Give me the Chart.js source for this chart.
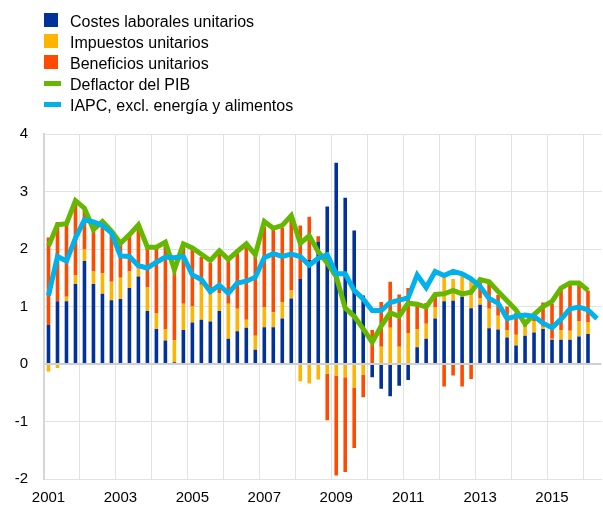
<!DOCTYPE html>
<html>
<head>
<meta charset="utf-8">
<script src="https://cdn.jsdelivr.net/npm/chart.js@4"></script>
<style>
  html, body { margin: 0; padding: 0; background: #fff; overflow: hidden; }
  #wrap { position: relative; width: 603px; height: 506px; overflow: hidden; }
  canvas { position: absolute; left: 0; top: 0; }
  #legend { position: absolute; left: 44px; top: 11px; font: 16px "Liberation Sans", Arial, sans-serif; color: #000; }
  .row { position: relative; height: 21px; line-height: 21px; padding-left: 26px; white-space: nowrap; }
  .mark { position: absolute; left: 0; }
</style>
</head>
<body>
<div id="wrap">
  <canvas id="myChart" width="607" height="506"></canvas>
  <div id="legend"></div>
</div>
<script>
// quarters 2001Q1 .. 2016Q2
const quarters = []
for (let y = 2001; y <= 2016; y++) {
    for (let q = 1; q <= 4; q++) {
        if (y === 2016 && q > 2) break
        quarters.push(y + 'Q' + q)
    }
}

const unitLabourCosts = [0.68,1.09,1.09,1.39,1.79,1.39,1.22,1.11,1.13,1.32,
    1.52,0.92,0.61,0.41,0.03,0.59,0.72,0.77,0.74,0.92,
    0.44,0.57,0.63,0.25,0.64,0.64,0.79,1.14,1.48,1.81,
    2.13,2.74,3.50,2.89,2.32,1.19,-0.23,-0.43,-0.56,-0.38,
    -0.28,0.29,0.44,0.79,1.09,1.10,1.17,0.97,1.03,0.62,
    0.60,0.46,0.32,0.49,0.55,0.61,0.42,0.42,0.42,0.48,
    0.52,null]

const unitTaxes = [-0.13,-0.07,0.08,0.16,0.20,0.22,0.36,0.32,0.37,0.29,
    0.14,0.41,0.27,0.19,0.38,0.46,0.28,0.61,0.47,0.31,
    0.61,0.39,0.14,0.24,0.35,0.26,0.29,0.14,-0.30,-0.34,
    -0.27,-0.17,-0.20,-0.23,-0.41,-0.19,0,0.30,0.63,0.30,
    0.54,0.32,0.26,0.20,0.49,0.38,0.36,0.54,0.12,0.34,
    0.24,0.13,0.19,0.16,0.20,0.04,0.02,0.17,0.16,0.26,
    0.20,null]

const unitProfits = [1.52,1.38,1.25,1.29,0.72,0.73,0.90,0.88,0.60,0.64,
    0.75,0.70,1.14,1.50,1.23,1.04,0.99,0.48,0.55,0.70,
    0.76,0.97,1.28,1.41,1.40,1.47,1.29,1.29,0.93,0.75,
    0.09,-0.81,-1.74,-1.65,-1.05,-0.39,0.59,0.78,0.80,0.91,
    0.78,0.45,0.36,0.24,-0.39,-0.20,-0.39,-0.26,0.32,0.45,
    0.36,0.41,0.38,0.12,0.13,0.42,0.61,0.72,0.82,0.66,
    0.56,null]

const gdpDeflator = [2.05,2.42,2.44,2.84,2.71,2.34,2.48,2.31,2.10,2.25,
    2.42,2.03,2.03,2.12,1.64,2.09,2.02,1.91,1.80,1.97,
    1.82,1.96,2.09,1.90,2.48,2.36,2.41,2.58,2.10,2.23,
    1.95,1.76,1.52,0.97,0.83,0.61,0.38,0.66,0.89,0.83,
    1.06,1.04,0.99,1.21,1.22,1.28,1.22,1.25,1.47,1.43,
    1.26,1.10,0.94,0.70,0.86,1.00,1.09,1.32,1.41,1.41,
    1.28,null]

const hicpCore = [1.19,1.87,1.79,2.19,2.51,2.47,2.41,2.28,1.88,1.87,
    1.71,1.67,1.77,1.86,1.85,1.87,1.55,1.47,1.26,1.37,
    1.23,1.41,1.44,1.51,1.85,1.92,1.87,1.91,1.87,1.72,
    1.84,1.90,1.57,1.57,1.28,1.13,0.93,0.93,1.07,1.11,
    1.15,1.55,1.33,1.61,1.54,1.61,1.57,1.48,1.35,1.14,
    1.06,0.79,0.83,0.85,0.83,0.71,0.63,0.78,0.96,0.99,
    0.94,0.79]

const yTicks = [-2, -1, 0, 1, 2, 3, 4]

const BLUE = '#003299'
const YELLOW = '#ffb400'
const ORANGE = '#ff4b00'
const GREEN = '#65b800'
const CYAN = '#00b1ea'

Chart.defaults.font.family = '"Liberation Sans", Arial, sans-serif'
Chart.defaults.font.size = 15
Chart.defaults.color = '#000'

const barSet = (label, data, color) => ({
    type: 'bar',
    label: label,
    data: data,
    backgroundColor: color,
    borderWidth: 0,
    stack: 'bars',
    order: 3,
    barPercentage: 0.4,
    categoryPercentage: 1
})

const lineSet = (label, data, color, order) => ({
    type: 'line',
    label: label,
    data: data,
    borderColor: color,
    backgroundColor: color,
    borderWidth: 5,
    pointRadius: 0,
    fill: false,
    tension: 0,
    stack: label,
    order: order
})

const ctx = document.getElementById('myChart').getContext('2d')
const chart = new Chart(ctx, {
    type: 'bar',
    data: {
        labels: quarters,
        datasets: [
            barSet('Costes laborales unitarios', unitLabourCosts, BLUE),
            barSet('Impuestos unitarios', unitTaxes, YELLOW),
            barSet('Beneficios unitarios', unitProfits, ORANGE),
            lineSet('Deflactor del PIB', gdpDeflator, GREEN, 2),
            lineSet('IAPC, excl. energía y alimentos', hicpCore, CYAN, 1)
        ]
    },
    options: {
        responsive: false,
        animation: false,
        devicePixelRatio: 1,
        layout: { padding: { top: 134, right: 2, left: 0, bottom: 0 } },
        plugins: {
            legend: { display: false },
            tooltip: { enabled: false }
        },
        scales: {
            x: {
                stacked: true,
                offset: true,
                afterFit: (scale) => { scale.height = 27 },
                grid: {
                    offset: true,
                    drawTicks: false,
                    color: (c) => (c.index % 4 === 0 ? '#e2e2e2' : 'rgba(0,0,0,0)'),
                    lineWidth: 1
                },
                border: { display: true, color: '#e2e2e2', width: 1 },
                ticks: {
                    autoSkip: false,
                    maxRotation: 0,
                    padding: 10,
                    callback: (value, i) => {
                        const q = quarters[i]
                        return q.endsWith('Q1') && parseInt(q) % 2 === 1 ? q.slice(0, 4) : ''
                    }
                }
            },
            y: {
                stacked: true,
                min: yTicks[0],
                max: yTicks[yTicks.length - 1],
                afterFit: (scale) => { scale.width = 44 },
                afterBuildTicks: (scale) => { scale.ticks = yTicks.map(v => ({ value: v })) },
                grid: {
                    drawTicks: false,
                    color: (c) => (c.tick && c.tick.value === 0 ? '#cfcfcf' : '#e2e2e2'),
                    lineWidth: (c) => (c.tick && c.tick.value === 0 ? 2 : 1)
                },
                border: { display: true, color: '#d6d6d6', width: 2 },
                ticks: { padding: 16 }
            }
        }
    }
})

// legend: squares for bars, short strokes for lines
const legend = document.getElementById('legend')
chart.data.datasets.forEach(ds => {
    const row = document.createElement('div')
    row.className = 'row'
    const mark = document.createElement('span')
    mark.className = 'mark'
    if (ds.type === 'bar') {
        Object.assign(mark.style, { top: '2px', width: '14px', height: '14px', background: ds.backgroundColor })
    } else {
        Object.assign(mark.style, { top: '7px', width: '17px', height: '5px', background: ds.borderColor })
    }
    row.appendChild(mark)
    row.appendChild(document.createTextNode(ds.label))
    legend.appendChild(row)
})
</script>
</body>
</html>
